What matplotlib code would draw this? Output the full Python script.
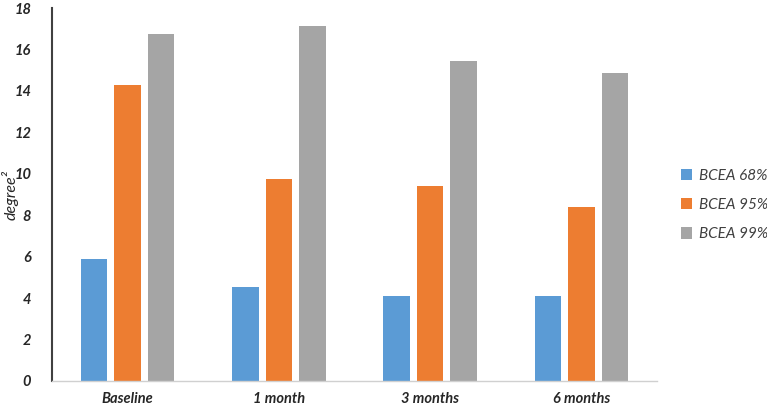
import numpy as np
import matplotlib.pyplot as plt
from matplotlib.patches import Patch

categories = ["Baseline", "1 month", "3 months", "6 months"]
series_names = ["BCEA 68%", "BCEA 95%", "BCEA 99%"]
bcea_68 = [5.9, 4.55, 4.1, 4.1]
bcea_95 = [14.3, 9.75, 9.4, 8.4]
bcea_99 = [16.75, 17.15, 15.45, 14.85]
colors = ["#5B9BD5", "#ED7D31", "#A5A5A5"]

plt.rcParams['font.family'] = ['Lato', 'DejaVu Sans']

fig = plt.figure(figsize=(7.67, 4.07), dpi=100)
ax = fig.add_axes([52 / 767, 26 / 407, 605 / 767, 373 / 407])

x = np.arange(len(categories))
width = 0.175
step = 0.222
for i, (vals, c) in enumerate(zip([bcea_68, bcea_95, bcea_99], colors)):
    ax.bar(x + (i - 1) * step, vals, width, color=c, label=series_names[i])

ax.set_xlim(-0.5, len(categories) - 0.5)
ax.set_ylim(0, 18)
ax.set_yticks(range(0, 19, 2))
ax.set_xticks(x)
ax.set_xticklabels(categories, fontsize=10.5, fontweight="bold", style="italic", color="#262626")
ax.set_yticklabels([str(v) for v in range(0, 19, 2)], fontsize=10.5, fontweight="bold",
                   style="italic", color="#262626")
ax.tick_params(axis="both", length=0)
ax.tick_params(axis="x", pad=8)
ax.tick_params(axis="y", pad=15)

for side in ["top", "right"]:
    ax.spines[side].set_visible(False)
ax.spines["left"].set_color("#404040")
ax.spines["left"].set_linewidth(1.5)
ax.spines["bottom"].set_color("#D0D0D0")
ax.spines["bottom"].set_linewidth(1.0)

# unicode superscript keeps the label box tight (mathtext box is taller)
ax.set_ylabel("degree²", fontsize=11.5, style="italic", color="#262626")
ax.yaxis.set_label_coords(-0.056, 0.5)

handles = [Patch(facecolor=c, edgecolor="none") for c in colors]
fig.legend(handles, series_names, loc="center left", bbox_to_anchor=(681 / 767, 1 - 205 / 407),
           frameon=False, prop={"style": "italic", "size": 11}, labelcolor="#404040",
           handlelength=0.75, handleheight=0.75, handletextpad=0.4, labelspacing=1.0,
           borderaxespad=0, borderpad=0)

fig.savefig("out.png", dpi=100)
